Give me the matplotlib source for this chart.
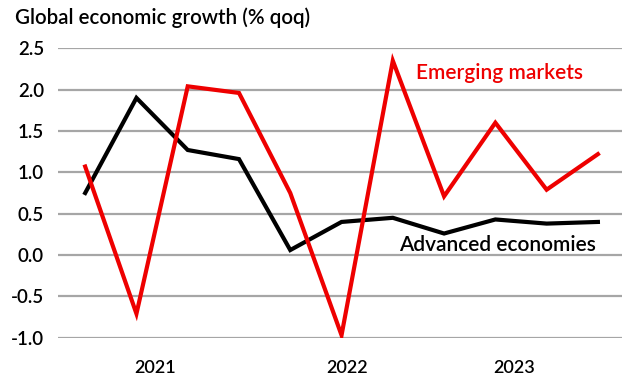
import matplotlib
matplotlib.use("Agg")
import matplotlib.pyplot as plt
import numpy as np

plt.rcParams['font.family'] = ['Lato', 'DejaVu Sans']

# Quarterly growth, % qoq
quarters = list(range(11))
emerging = [1.07, -0.71, 2.04, 1.96, 0.75, -0.97, 2.35, 0.71, 1.60, 0.79, 1.22]
advanced = [0.75, 1.90, 1.27, 1.16, 0.06, 0.40, 0.45, 0.26, 0.43, 0.38, 0.40]
year_labels = ['2021', '2022', '2023']
year_pos = [1.37, 5.10, 8.37]
y_ticks = [2.5, 2.0, 1.5, 1.0, 0.5, 0.0, -0.5, -1.0]

RED = '#ee0000'
GRID = '#a6a6a6'
WEIGHT = 'semibold'

fig = plt.figure(figsize=(6.22, 3.81), dpi=100)
ax = fig.add_axes([58 / 622, 43.3 / 381, 1 - 58 / 622, 289.4 / 381])

for y in y_ticks:
    ax.axhline(y, color=GRID, lw=1.6, zorder=1)

ax.plot(quarters, advanced, color='black', lw=3, zorder=3, solid_joinstyle='miter')
ax.plot(quarters, emerging, color=RED, lw=3, zorder=4, solid_joinstyle='miter')

ax.set_xlim(-0.53, 10.47)
ax.set_ylim(-1.0, 2.5)
ax.set_yticks(y_ticks)
ax.set_yticklabels([f'{v:.1f}' for v in y_ticks])
ax.set_xticks(year_pos)
ax.set_xticklabels(year_labels)
ax.tick_params(axis='y', length=0, pad=10, labelsize=13.5, colors='black')
ax.tick_params(axis='x', length=0, pad=16, labelsize=13)
for lbl in ax.get_xticklabels() + ax.get_yticklabels():
    lbl.set_fontweight(WEIGHT)
for s in ax.spines.values():
    s.set_visible(False)

ax.text(6.46, 2.20, 'Emerging markets', color=RED, fontsize=15,
        fontweight=WEIGHT, va='center', ha='left')
ax.text(6.12, 0.12, 'Advanced economies', color='black', fontsize=15,
        fontweight=WEIGHT, va='center', ha='left')

fig.text(15 / 622, 1 - 18 / 381, 'Global economic growth (% qoq)', fontsize=14.8,
         fontweight=WEIGHT, va='center', ha='left')

fig.savefig('out.png', dpi=100)
